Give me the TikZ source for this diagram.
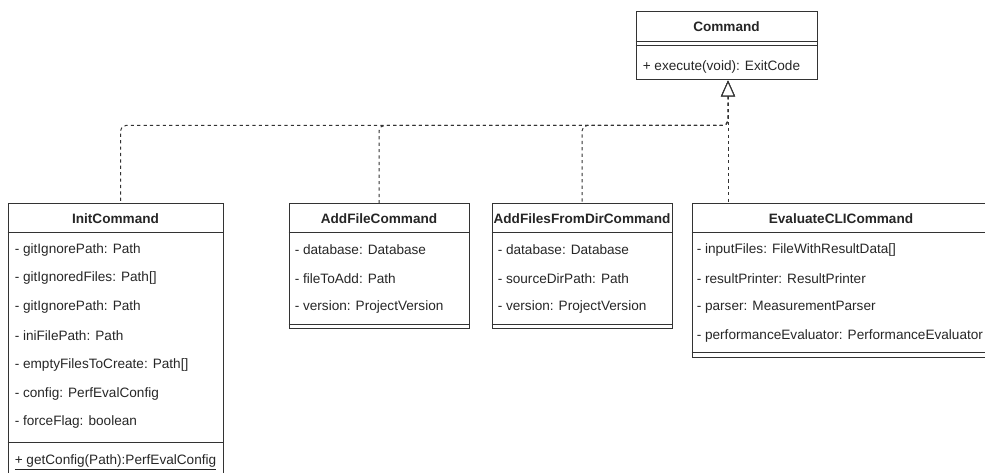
\documentclass[tikz,border=0pt]{standalone}
\usepackage{fontspec}
\setmainfont{Liberation Sans}
\usetikzlibrary{calc,fit,arrows.meta,positioning}
\tikzset{umlline/.style={black!80,line width=0.75pt}}

\begin{document}
\begin{tikzpicture}[x=0.75pt,y=-0.75pt]

\tikzset{classbox/.style={umlline,draw,inner sep=0pt,fit={#1}},
classname/.style={font=\fontsize{10.2}{12}\selectfont\bfseries,text=black!85,inner sep=0pt},
member/.style={font=\fontsize{10.2}{12}\selectfont,text=black!85,anchor=west,inner sep=0pt},
realizes/.style={umlline,dash pattern=on 2.4pt off 2.4pt,rounded corners=4pt,{Triangle[open,length=12pt,width=10.5pt,fill=white]}-}}

\useasboundingbox (0,0) rectangle (985,473);
\clip (0,0) rectangle (985,473);

% Classes
\node[classbox={(636,12) (817,80)}] (cmd) {};
\node[classbox={(8,204) (223,480)}] (init) {};
\node[classbox={(289,204) (469,329)}] (addfile) {};
\node[classbox={(492,204) (672,329)}] (adddir) {};
\node[classbox={(692,204) (990,358)}] (evalc) {};

% Names
\node[classname] (cmdname) at ($(cmd.north)+(0,15)$) {Command};
\node[classname] (initname) at ($(init.north)+(0,15)$) {InitCommand};
\node[classname] (addfilename) at ($(addfile.north)+(0,15)$) {AddFileCommand};
\node[classname] (adddirname) at ($(adddir.north)+(0,15)$) {AddFilesFromDirCommand};
\node[classname] (evalcname) at ($(evalc.north)+(0,15)$) {EvaluateCLICommand};

% Compartments
\draw[umlline] (cmd.west |- 0,42) -- (cmd.east |- 0,42);
\draw[umlline] (cmd.west |- 0,46) -- (cmd.east |- 0,46);
\foreach \c in {init,addfile,adddir,evalc} \draw[umlline] (\c.west |- 0,233) -- (\c.east |- 0,233);
\draw[umlline] (init.west |- 0,443) -- (init.east |- 0,443);
\foreach \c in {addfile,adddir} \draw[umlline] (\c.west |- 0,325) -- (\c.east |- 0,325);
\draw[umlline] (evalc.west |- 0,353) -- (evalc.east |- 0,353);

% Members
\node[member] (cmdop) at ($(cmd.north west)+(7,55)$) {+ execute(void): ExitCode};
\foreach \m [count=\i from 0] in {- gitIgnorePath: Path,- gitIgnoredFiles: Path[],- gitIgnorePath: Path,- iniFilePath: Path,- emptyFilesToCreate: Path[],- config: PerfEvalConfig,- forceFlag: boolean}
  \node[member] (initattr\i) at ($(init.north west)+(7,46+28.8*\i)$) {\m};
\node[member] (initop) at ($(init.north west)+(7,259)$) {\underline{+ getConfig(Path):PerfEvalConfig}};
\foreach \m [count=\i from 0] in {- database: Database,- fileToAdd: Path,- version: ProjectVersion}
  \node[member] (addfileattr\i) at ($(addfile.north west)+(6,46+28.8*\i)$) {\m};
\foreach \m [count=\i from 0] in {- database: Database,- sourceDirPath: Path,- version: ProjectVersion}
  \node[member] (adddirattr\i) at ($(adddir.north west)+(6,46+28.8*\i)$) {\m};
\foreach \m [count=\i from 0] in {- inputFiles: FileWithResultData[],- resultPrinter: ResultPrinter,- parser: MeasurementParser,- performanceEvaluator: PerformanceEvaluator}
  \node[member] (evalcattr\i) at ($(evalc.north west)+(5,46+28.8*\i)$) {\m};

% Realizations
\coordinate (tip) at ($(cmd.south)+(1.5,0)$);
\draw[realizes] (tip) -- ($(tip)+(0,45)$) -| ($(init.north)+(5,0)$);
\draw[realizes] (tip) -- ($(tip)+(0,45)$) -| (addfile.north);
\draw[realizes] (tip) -- ($(tip)+(0,45)$) -| (adddir.north);
\draw[realizes] (tip) -- (tip |- evalc.north);

\end{tikzpicture}
\end{document}
